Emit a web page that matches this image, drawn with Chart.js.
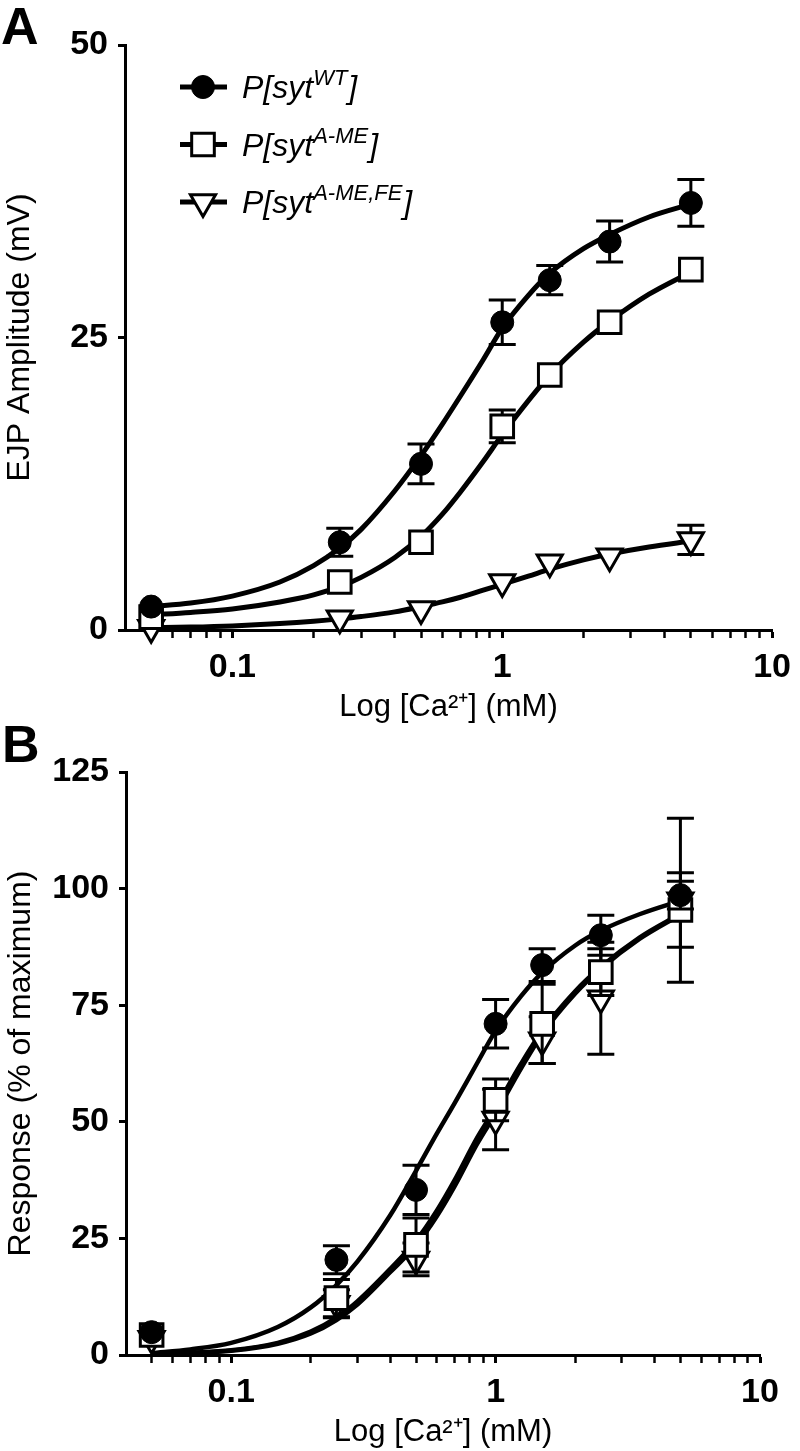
<!DOCTYPE html>
<html><head><meta charset="utf-8">
<script src="https://cdn.jsdelivr.net/npm/chart.js@4.4.1/dist/chart.umd.min.js"></script>
<style>
html,body{margin:0;padding:0;background:#fff;width:800px;height:1451px;overflow:hidden}
#wrapA{position:absolute;left:0;top:0;width:800px;height:730px}
#wrapB{position:absolute;left:0;top:715px;width:800px;height:736px}
</style></head><body>
<div id="wrapA"><canvas id="chartA" width="800" height="730"></canvas></div>
<div id="wrapB"><canvas id="chartB" width="800" height="736"></canvas></div>
<script>
// ---------- data ----------
const concentrations = [0.05, 0.25, 0.5, 1, 1.5, 2.5, 5];
const legendSup = ['WT', 'A-ME', 'A-ME,FE'];

// Panel A: EJP amplitude (mV), mean and error
const ampWT       = [2.0, 7.5, 14.2, 26.3, 29.9, 33.2, 36.5];
const ampWTErr    = [0, 1.2, 1.7, 1.9, 1.25, 1.75, 2.0];
const ampAME      = [1.1, 4.1, 7.5, 17.4, 21.8, 26.3, 30.8];
const ampAMEErr   = [0, 0, 0, 1.4, 0, 0, 0];
const ampAMEFE    = [0.2, 1.0, 1.8, 4.1, 5.8, 6.3, 7.7];
const ampAMEFEErr = [0, 0, 0, 0, 0, 0, 1.25];

// Panel B: response (% of maximum), mean and error
const respWT       = [4.9, 20.4, 35.4, 71.0, 83.6, 90.0, 98.6];
const respWTErr    = [0, 3.0, 5.3, 5.2, 3.5, 4.3, 3.0];
const respAME      = [4.3, 12.2, 23.6, 54.7, 71.0, 82.1, 95.4];
const respAMEErr   = [0, 4.0, 5.8, 4.5, 8.5, 5.0, 8.0];
const respAMEFE    = [3.5, 11.0, 20.5, 50.5, 67.5, 76.5, 97.5];
const respAMEFEErr = [0, 3.0, 3.5, 6.5, 5.0, 12.0, 17.6];

// fitted curves
const curveX      = [0.05,0.07,0.1,0.15,0.2,0.25,0.3,0.4,0.5,0.6,0.7,0.85,1,1.25,1.5,2,2.5,3.5,5];
const fitAmpWT    = [2.0,2.3,2.9,4.1,5.5,7.0,8.6,11.9,14.9,17.6,20.0,23.1,25.8,28.6,30.5,32.6,33.8,35.3,36.4];
const fitAmpAME   = [1.3,1.5,1.8,2.4,3.0,3.7,4.5,6.2,8.0,9.9,11.8,14.4,16.7,19.6,21.8,24.6,26.4,28.7,30.6];
const fitAmpAMEFE = [0.2,0.25,0.35,0.55,0.75,0.95,1.15,1.55,2.0,2.4,2.8,3.4,3.9,4.6,5.2,6.0,6.5,7.1,7.6];
const fitRespWT    = [0.4,1.2,2.6,6.0,10.2,15.0,20.0,30.0,39.5,47.5,54.0,62.5,69.5,77.0,82.0,87.8,91.0,94.5,97.4];
const fitRespAME   = [0.2,0.5,1.0,2.6,5.0,8.0,11.5,18.5,24.5,31.0,37.5,46.5,53.0,62.5,69.5,78.0,83.2,89.5,94.6];
const fitRespAMEFE = [0.1,0.4,0.9,2.4,4.6,7.5,10.8,17.8,23.5,29.8,36.2,45.2,51.8,61.5,68.8,77.5,82.8,89.2,94.4];

// axes
const xTickPositions = [0.05,0.06,0.07,0.08,0.09,0.1,0.2,0.3,0.4,0.5,0.6,0.7,0.8,0.9,1,2,3,4,5,6,7,8,9,10];
const xTickValues = [0.1, 1, 10];
const xTickLabels = ['0.1', '1', '10'];
const xTitle = 'Log [Ca²⁺] (mM)';
const yTitleA = 'EJP Amplitude (mV)';
const yTitleB = 'Response (% of maximum)';

// ---------- drawing ----------
const FONT = '"Liberation Sans", Arial, Helvetica, sans-serif';
const pts = (xs, ys) => xs.map((x, i) => ({x: x, y: ys[i]}));

const markerStyles = [
  {pointStyle: 'circle', radius: 11.5, rotation: 0, fill: '#000', borderWidth: 1},
  {pointStyle: 'rect', radius: 16, rotation: 0, fill: '#fff', borderWidth: 3},
  {pointStyle: 'triangle', radius: 14.5, rotation: 180, fill: '#fff', borderWidth: 3}
];

function curveDs(ys, w) {
  return {type: 'line', data: pts(curveX, ys), borderColor: '#000', borderWidth: w,
    pointRadius: 0, fill: false, cubicInterpolationMode: 'monotone', tension: 0.4, order: 10};
}
function markerDs(ys, errs, k) {
  const m = markerStyles[k];
  return {type: 'line', showLine: false, data: pts(concentrations, ys), errors: errs,
    pointStyle: m.pointStyle, pointRadius: m.radius, pointRotation: m.rotation,
    pointBackgroundColor: m.fill, pointBorderColor: '#000', pointBorderWidth: m.borderWidth,
    order: k + 1, clip: false};
}

const errorBarPlugin = {
  id: 'errorBars',
  beforeDatasetDraw(chart, args) {
    const ds = chart.data.datasets[args.index];
    if (!ds.errors) return;
    const xs = chart.scales.x, ys = chart.scales.y, ctx = chart.ctx;
    ctx.save();
    ctx.strokeStyle = '#000'; ctx.lineWidth = 3; ctx.lineCap = 'butt';
    ds.data.forEach((p, i) => {
      const e = ds.errors[i]; if (!e) return;
      const x = xs.getPixelForValue(p.x);
      const yt = ys.getPixelForValue(p.y + e), yb = ys.getPixelForValue(p.y - e);
      ctx.beginPath();
      ctx.moveTo(x, yt); ctx.lineTo(x, yb);
      ctx.moveTo(x - 13.5, yt); ctx.lineTo(x + 13.5, yt);
      ctx.moveTo(x - 13.5, yb); ctx.lineTo(x + 13.5, yb);
      ctx.stroke();
    });
    ctx.restore();
  }
};

function annotPlugin(letter, lx, ly, withLegend) {
  return {
    id: 'annot' + letter,
    afterDraw(chart) {
      const ctx = chart.ctx;
      ctx.save();
      ctx.fillStyle = '#000';
      ctx.textBaseline = 'alphabetic';
      ctx.textAlign = 'left';
      ctx.font = 'bold 52px ' + FONT;
      ctx.fillText(letter, lx, ly);
      if (withLegend) {
        legendSup.forEach((sup, i) => {
          const y = 87 + i * 57.5;
          const m = markerStyles[i];
          ctx.strokeStyle = '#000'; ctx.lineWidth = 5;
          ctx.beginPath(); ctx.moveTo(180, y); ctx.lineTo(227, y); ctx.stroke();
          ctx.fillStyle = m.fill; ctx.lineWidth = m.borderWidth;
          Chart.helpers.drawPoint(ctx, {pointStyle: m.pointStyle, rotation: m.rotation,
            radius: m.radius, borderWidth: m.borderWidth}, 203, y);
          ctx.fillStyle = '#000';
          let x = 242; const base = y + 11;
          ctx.font = 'italic 32px ' + FONT;
          ctx.fillText('P[syt', x, base); x += ctx.measureText('P[syt').width;
          ctx.font = 'italic 22px ' + FONT;
          ctx.fillText(sup, x, base - 13); x += ctx.measureText(sup).width + 1;
          ctx.font = 'italic 32px ' + FONT;
          ctx.fillText(']', x, base);
        });
      }
      ctx.restore();
    }
  };
}

function buildOptions(c) {
  return {
    responsive: false, animation: false, devicePixelRatio: 1,
    layout: {padding: c.padding},
    plugins: {legend: {display: false}, tooltip: {enabled: false}},
    scales: {
      x: {
        type: 'logarithmic', min: 0.04, max: 10,
        afterBuildTicks: s => { s.ticks = xTickPositions.map(v => ({value: v, major: xTickValues.includes(v)})); },
        afterFit: s => { s.height = c.xHeight; },
        border: {display: true, color: '#000', width: 3},
        grid: {display: true, drawOnChartArea: false, drawTicks: true, tickLength: 8, color: '#000',
          tickWidth: ctx => (ctx.tick && xTickValues.includes(ctx.tick.value)) ? 3 : 2.5},
        ticks: {autoSkip: false, maxRotation: 0, minRotation: 0, padding: 9, color: '#000',
          font: {family: FONT, size: 34, weight: 'bold'},
          callback: v => { const i = xTickValues.indexOf(v); return i >= 0 ? xTickLabels[i] : ''; }},
        title: {display: true, text: xTitle, color: '#000', font: {family: FONT, size: 31},
          padding: {top: 0, bottom: c.xTitlePad}}
      },
      y: {
        type: 'linear', min: 0, max: c.yMax,
        afterFit: s => { s.width = c.yWidth; },
        border: {display: true, color: '#000', width: 3},
        grid: {display: true, drawOnChartArea: false, drawTicks: true, tickLength: 7, color: '#000', tickWidth: 3},
        ticks: {stepSize: 25, padding: 10, color: '#000', font: {family: FONT, size: 34, weight: 'bold'}},
        title: {display: true, text: c.yTitle, color: '#000', font: {family: FONT, size: 32},
          padding: {top: c.yTitlePad, bottom: 0}}
      }
    }
  };
}

new Chart(document.getElementById('chartA'), {
  type: 'line',
  data: {datasets: [
    curveDs(fitAmpWT, 5), curveDs(fitAmpAME, 5), curveDs(fitAmpAMEFE, 5),
    markerDs(ampWT, ampWTErr, 0), markerDs(ampAME, ampAMEErr, 1), markerDs(ampAMEFE, ampAMEFEErr, 2)
  ]},
  options: buildOptions({padding: {top: 45, right: 20, left: 0, bottom: 0}, xHeight: 100, yWidth: 125,
    yMax: 50, yTitle: yTitleA, xTitlePad: 4, yTitlePad: 1}),
  plugins: [errorBarPlugin, annotPlugin('A', 1, 44, true)]
});

new Chart(document.getElementById('chartB'), {
  type: 'line',
  data: {datasets: [
    curveDs(fitRespWT, 4.5), curveDs(fitRespAME, 4.5), curveDs(fitRespAMEFE, 4.5),
    markerDs(respWT, respWTErr, 0), markerDs(respAME, respAMEErr, 1), markerDs(respAMEFE, respAMEFEErr, 2)
  ]},
  options: buildOptions({padding: {top: 57, right: 40, left: 0, bottom: 0}, xHeight: 96, yWidth: 126,
    yMax: 125, yTitle: yTitleB, xTitlePad: 0, yTitlePad: 2}),
  plugins: [errorBarPlugin, annotPlugin('B', 2, 47, false)]
});
</script>
</body></html>
